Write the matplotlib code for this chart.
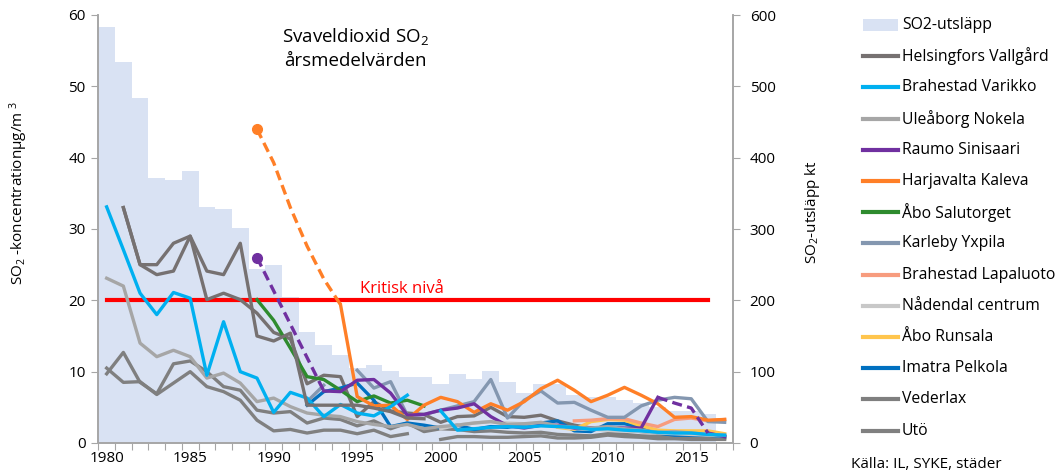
import numpy as np
import matplotlib
matplotlib.use("Agg")
import matplotlib.pyplot as plt
from matplotlib.lines import Line2D
from matplotlib.patches import Rectangle

plt.rcParams['font.family'] = ['Open Sans', 'DejaVu Sans']
plt.rcParams['mathtext.fontset'] = 'custom'
plt.rcParams['mathtext.rm'] = 'Open Sans'
plt.rcParams['mathtext.it'] = 'Open Sans:italic'

nan = np.nan
years = np.arange(1980, 2018)

# SO2 emissions, kt (right axis)
emissions = [583, 534, 484, 372, 368, 382, 331, 328, 302, 244, 249, 204, 156, 137, 123,
             105, 109, 101, 93, 92, 83, 97, 90, 101, 85, 70, 83, 83, 67, 65, 65, 60,
             56, 51, 45, 45, 40, nan]

# annual mean concentrations, ug/m3
helsingfors_a = [nan, 33.0, 25.0, 25.0, 28.0, 29.0, 24.1, 23.6, 28.0, 15.0, 14.3, 15.4,
                 5.3, 5.3, 5.3, 5.3, 4.9, 4.4, 3.5, 3.4] + [nan] * 18
helsingfors_b = [nan, 33.0, 25.0, 23.6, 24.1, 29.0, 20.1, 21.0, 20.1, 18.2, 15.5, 14.6,
                 8.3, 9.5, 9.3, 3.7, 5.8, 4.5, 4.2, 4.0, 2.9, 3.7, 3.8, 5.0, 3.7, 3.6,
                 3.9, 3.1, 2.5, 2.1, 2.0, 1.8, 1.6, 1.4, 1.3, 1.1, 1.0, 0.9]
varikko = [33.1, 27.1, 21.0, 18.0, 21.1, 20.3, 9.5, 17.0, 10.0, 9.1, 4.3, 7.1, 6.3, 3.7,
           5.4, 4.2, 3.8, 5.1, 6.7, nan, 4.5, 1.8, 2.0, 2.2, 2.3, 2.2, 2.4, 2.3, 2.2,
           1.9, 2.0, 1.8, 1.7, 1.5, 1.4, 1.4, 1.2, 1.1]
nokela = [23.1, 22.0, 14.0, 12.1, 13.0, 12.1, 9.1, 9.8, 8.4, 5.8, 6.3, 5.1, 4.2, 3.9, 3.7,
          3.0, 2.6, 2.3, 2.6, 2.0, 2.3, 2.5, 2.8, 3.0, 2.6, 2.7, 2.9, 2.4, 2.2, 2.1, 2.3,
          2.0, 1.8, 1.5, 1.6, 1.4, 1.2, 1.1]
sinisaari = [nan] * 13 + [7.3, 7.2, 8.8, 8.9, 7.0, 3.9, 4.0, 4.6, 4.9, 5.5, 3.7, 2.4, 2.1,
                          2.5, 2.5, 2.1, 2.1, 2.2, 2.1, 2.1, 6.4, nan, nan, 1.4, 0.9]
sinisaari_est_yrs = [1989, 1993]
sinisaari_est = [26.0, 7.3]
sinisaari_est2_yrs = [2013, 2014, 2015, 2016]
sinisaari_est2 = [6.4, 5.6, 4.9, 1.4]
kaleva = [nan] * 14 + [19.4, 6.5, 5.2, 5.3, 3.3, 5.3, 6.4, 5.8, 4.3, 5.5, 4.6, 5.8, 7.6,
                       8.8, 7.4, 5.8, 6.7, 7.8, 6.7, 5.5, 3.6, 3.7, 3.2, 3.3]
kaleva_est_yrs = [1989, 1990, 1991, 1992, 1993, 1994]
kaleva_est = [44.0, 39.3, 33.0, 27.6, 23.0, 19.4]
salutorget = [nan] * 9 + [20.1, 17.2, 13.3, 9.3, 8.9, 7.4, 5.8, 6.6, 5.6, 6.0, 5.2] + [nan] * 18
yxpila = [nan] * 12 + [5.8, 8.1, nan, 10.2, 7.7, 8.6, 3.9, 4.0, 4.6, 5.2, 5.8, 8.9, 3.5,
                       6.0, 7.3, 5.6, 5.7, 4.6, 3.6, 3.6, 5.2, 6.0, 6.4, 6.2, 3.0, 2.9]
lapaluoto = [nan] * 28 + [3.1, 3.2, 3.4, 3.4, 2.8, 2.3, 3.3, 3.5, 3.1, 3.3]
nadendal = [nan] * 20 + [2.0, 2.5, 2.8, 3.0, 2.8, 2.7, 2.5, 2.3, 2.0, 1.9, 1.8, 1.7, 1.6,
                         1.4, 1.3, 1.2, 1.1, 1.0]
runsala = [nan] * 27 + [2.2, 1.9, 3.0, 3.3, 3.2, 2.4, 1.8, 1.7, 1.7, 1.7, 1.3]
pelkola = [nan] * 12 + [5.3, 7.2, 7.7, 8.4, 6.0, 2.3, 2.8, 2.5, 2.1, 2.5, 1.9, 2.3, 2.2,
                        2.6, 2.8, 3.1, 1.7, 1.6, 2.7, 2.7, 2.2, 1.4, 1.1, 1.1, 1.1, 0.9]
vederlax = [9.7, 12.7, 8.5, 6.9, 11.1, 11.5, 10.0, 7.9, 7.4, 4.6, 4.2, 4.4, 2.8, 3.5, 3.3,
            2.4, 3.1, 2.0, 2.8, 1.6, 2.0, 1.9, 1.6, 1.7, 1.5, 1.4, 1.5, 1.2, 1.1, 1.0,
            1.3, 1.2, 1.0, 0.9, 0.9, 0.8, 0.7, 0.7]
uto = [10.5, 8.5, 8.6, 6.8, 8.4, 10.0, 7.9, 7.2, 6.0, 3.2, 1.7, 1.9, 1.4, 1.8, 1.8, 1.3,
       1.8, 0.9, 1.3, nan, 0.5, 0.9, 0.9, 0.8, 0.8, 0.9, 1.0, 0.7, 0.7, 0.8, 1.1, 0.9,
       0.8, 0.6, 0.6, 0.5, 0.5, 0.5]
critical = 20
critical_yrs = [1980, 2016]

series = [
    ("Helsingfors Vallgård", helsingfors_a, "#767171"),
    ("Brahestad Varikko", varikko, "#00b0f0"),
    ("Uleåborg Nokela", nokela, "#a6a6a6"),
    ("Raumo Sinisaari", sinisaari, "#7030a0"),
    ("Harjavalta Kaleva", kaleva, "#ff7f27"),
    ("Åbo Salutorget", salutorget, "#2e8b2e"),
    ("Karleby Yxpila", yxpila, "#8497b0"),
    ("Brahestad Lapaluoto", lapaluoto, "#f79c7e"),
    ("Nådendal centrum", nadendal, "#c8c8c8"),
    ("Åbo Runsala", runsala, "#ffc54d"),
    ("Imatra Pelkola", pelkola, "#0070c0"),
    ("Vederlax", vederlax, "#7f7f7f"),
    ("Utö", uto, "#808080"),
]

W, H = 1056, 476
fig = plt.figure(figsize=(W / 100, H / 100), dpi=100)
ax = fig.add_axes([98.3 / W, 33 / H, 634.7 / W, 428 / H])
ax2 = ax.twinx()

bar_color = "#d9e2f3"
ax2.bar(years, emissions, width=1.0, color=bar_color, zorder=1)
ax2.set_ylim(0, 600)
ax.set_zorder(ax2.get_zorder() + 1)
ax.patch.set_visible(False)

lw = 2.4
dash = (0, (3.0, 1.6))
ax.plot(critical_yrs, [critical, critical], color="#ff0000", lw=3, zorder=2)
ax.plot(years, helsingfors_b, color="#767171", lw=lw, zorder=3)
for name, vals, col in reversed(series):
    ax.plot(years, vals, color=col, lw=lw, zorder=3)

ax.plot(sinisaari_est_yrs, sinisaari_est, color="#7030a0", lw=lw, ls=dash, zorder=3)
ax.plot(sinisaari_est2_yrs, sinisaari_est2, color="#7030a0", lw=lw, ls=dash, zorder=3)
ax.plot(kaleva_est_yrs, kaleva_est, color="#ff7f27", lw=lw, ls=dash, zorder=3)
ax.plot([sinisaari_est_yrs[0]], [sinisaari_est[0]], 'o', color="#7030a0", ms=7, zorder=4)
ax.plot([kaleva_est_yrs[0]], [kaleva_est[0]], 'o', color="#ff7f27", ms=7, zorder=4)

ax.set_xlim(1979.5, 2017.5)
ax.set_ylim(0, 60)
ax.set_yticks(range(0, 61, 10))
ax2.set_yticks(range(0, 601, 100))

# category style x axis: ticks between years, labels every 5 years
ax.set_xticks(np.arange(1979.5, 2018, 1))
ax.set_xticklabels([])
ax.set_xticks(range(1980, 2018, 5), minor=True)
ax.set_xticklabels([str(y) for y in range(1980, 2018, 5)], minor=True)
ax.tick_params(axis='x', which='major', length=5, color="#a6a6a6", direction='out')
ax.tick_params(axis='x', which='minor', length=0, pad=6, labelsize=11)
ax.tick_params(axis='y', length=5, color="#a6a6a6", labelsize=11, pad=4)
ax2.tick_params(axis='y', length=5, color="#a6a6a6", labelsize=11, pad=7)
ax2.tick_params(axis='x', length=0)

for a in (ax, ax2):
    a.spines['top'].set_visible(False)
    for s in ('left', 'right', 'bottom'):
        a.spines[s].set_color("#a6a6a6")
        a.spines[s].set_linewidth(1.2)

fig.text(19 / W, 1 - 193 / H, "SO$_2$ -koncentrationµg/m $^3$", rotation=90,
         ha='center', va='center', fontsize=11)
fig.text(812 / W, 1 - 212 / H, "SO$_2$-utsläpp kt", rotation=90,
         ha='center', va='center', fontsize=11)
fig.text(355 / W, 1 - 48 / H, "Svaveldioxid SO$_2$\nårsmedelvärden",
         ha='center', va='center', fontsize=13.5, linespacing=1.35)
ax.text(1997.7, 20.4, "Kritisk nivå", color="#ff0000", ha='center', va='bottom', fontsize=12)
fig.text(851 / W, 1 - 465 / H, "Källa: IL, SYKE, städer", ha='left', va='center', fontsize=11)

# legend drawn row by row so the spacing stays even
row0, row_step = 25, 31.2
hx0, hx1, tx = 863, 898, 902
fig.patches.append(Rectangle((hx0 / W, 1 - (row0 + 6) / H), (hx1 - hx0) / W, 12 / H,
                             transform=fig.transFigure, facecolor=bar_color, edgecolor='none'))
fig.text(tx / W, 1 - row0 / H, "SO2-utsläpp", ha='left', va='center', fontsize=11.3)
for i, (name, vals, col) in enumerate(series, start=1):
    y = 1 - (row0 + i * row_step) / H
    fig.lines.append(Line2D([hx0 / W, hx1 / W], [y, y], transform=fig.transFigure,
                            color=col, lw=3))
    fig.text(tx / W, y, name, ha='left', va='center', fontsize=11.3)

fig.savefig("out.png", dpi=100)
